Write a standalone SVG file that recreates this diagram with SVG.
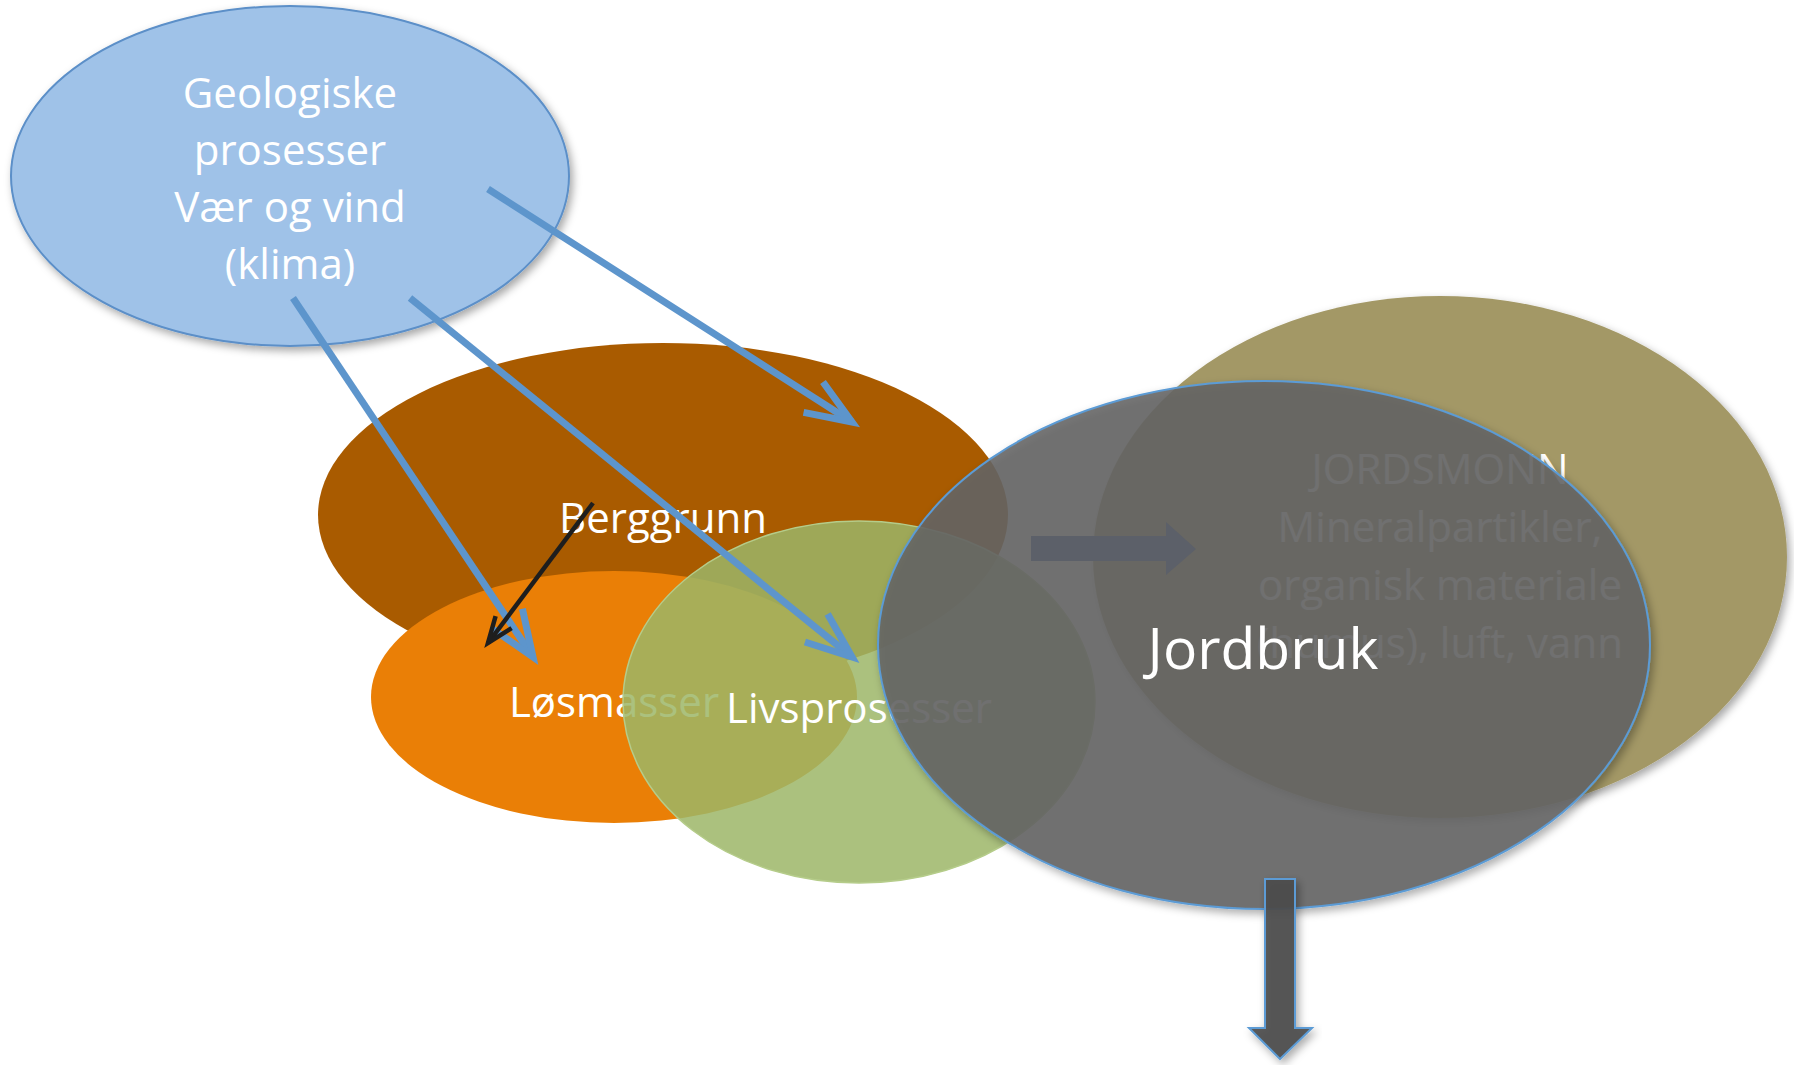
<svg xmlns="http://www.w3.org/2000/svg" width="1794" height="1065" viewBox="0 0 1794 1065">
<style>
.t{font-family:"Open Sans","Noto Sans",sans-serif;font-size:42px;fill:#ffffff;text-anchor:middle}
.big{font-size:57px}
.bl{fill:none;stroke:#5D95CC;stroke-width:7}
.bk{fill:none;stroke:#1E1E1E;stroke-width:4.5}
</style>
<defs>
<filter id="sh" x="-10%" y="-10%" width="125%" height="130%">
<feDropShadow dx="3" dy="4" stdDeviation="4" flood-color="#000" flood-opacity="0.35"/>
</filter>
<marker id="mb" markerUnits="userSpaceOnUse" orient="auto" refX="0" refY="0" markerWidth="60" markerHeight="60" overflow="visible">
<path d="M-46,-18 L0,0 L-46,18" fill="none" stroke="#5D95CC" stroke-width="7" stroke-linejoin="miter"/>
</marker>
<marker id="mk" markerUnits="userSpaceOnUse" orient="auto" refX="0" refY="0" markerWidth="40" markerHeight="40" overflow="visible">
<path d="M-26,-10 L0,0 L-26,10" fill="none" stroke="#1E1E1E" stroke-width="4.5"/>
</marker>
</defs>
<rect width="1794" height="1065" fill="#ffffff"/>
<g id="node-geologiske">
<ellipse cx="290" cy="176" rx="279" ry="170" fill="#9FC2E8" stroke="#5B8FC8" stroke-width="2" filter="url(#sh)"/>
<text class="t" x="290" y="108">Geologiske</text>
<text class="t" x="290" y="165">prosesser</text>
<text class="t" x="290" y="222">Vær og vind</text>
<text class="t" x="290" y="279">(klima)</text>
</g>
<g id="node-berggrunn">
<ellipse cx="663" cy="515" rx="345" ry="172" fill="#A95B00"/>
<text class="t" x="663" y="533">Berggrunn</text>
</g>
<g id="node-losmasser">
<ellipse cx="614" cy="697" rx="243" ry="126" fill="#EA7F06"/>
<text class="t" x="614" y="717">Løsmasser</text>
</g>
<g id="node-livsprosesser">
<ellipse cx="859" cy="702" rx="236" ry="181" fill="#9CB667" fill-opacity="0.85" stroke="#B5CC8A" stroke-width="1.5"/>
<text class="t" x="859" y="723">Livsprosesser</text>
</g>
<g id="node-jordsmonn">
<ellipse cx="1440" cy="557" rx="347" ry="261" fill="#A39866" filter="url(#sh)"/>
<text class="t" x="1440" y="484">JORDSMONN</text>
<text class="t" x="1440" y="542">Mineralpartikler,</text>
<text class="t" x="1440" y="600">organisk materiale</text>
<text class="t" x="1440" y="658">(humus), luft, vann</text>
</g>
<g id="node-jordbruk">
<ellipse cx="1264" cy="645" rx="386" ry="264" fill="#656565" fill-opacity="0.88" stroke="#5B9BD5" stroke-width="2" filter="url(#sh)"/>
<text class="t big" x="1263" y="669">Jordbruk</text>
</g>
<g id="connectors">
<line class="bl" x1="488" y1="189" x2="852" y2="422" marker-end="url(#mb)"/>
<line class="bl" x1="410" y1="298" x2="852" y2="657" marker-end="url(#mb)"/>
<line class="bl" x1="293" y1="298" x2="533" y2="657" marker-end="url(#mb)"/>
<line class="bk" x1="593" y1="503" x2="488" y2="643" marker-end="url(#mk)"/>
<polygon points="1031,536 1166,536 1166,522 1196,549 1166,575 1166,561 1031,561" fill="#5C6069"/>
<polygon points="1265,879 1295,879 1295,1028 1312,1028 1280,1059 1249,1028 1265,1028" fill="#4C4C4C" fill-opacity="0.92" stroke="#5B9BD5" stroke-width="2" filter="url(#sh)"/>
</g>
</svg>
